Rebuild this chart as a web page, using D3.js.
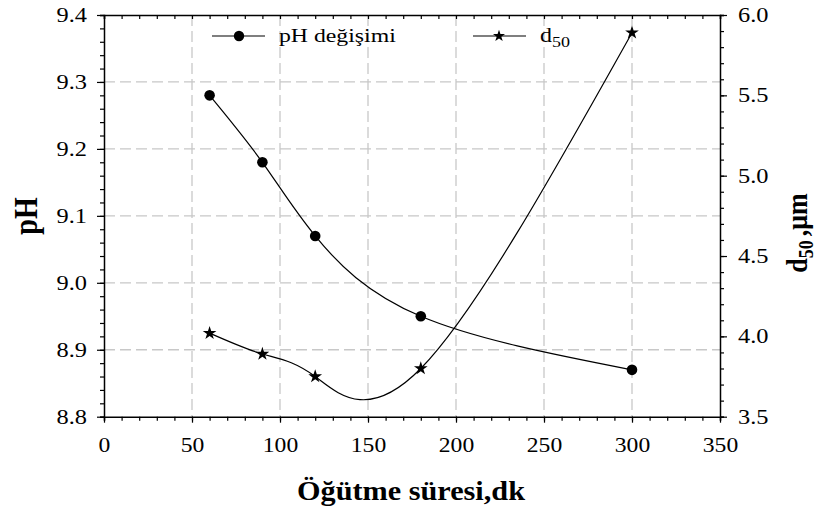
<!DOCTYPE html>
<html>
<head>
<meta charset="utf-8">
<script src="https://cdn.jsdelivr.net/npm/d3@7"></script>
<style>
  body { margin: 0; background: #fff; }
  svg text { font-family: "Liberation Serif", "Times New Roman", serif !important; fill: #000; }
</style>
</head>
<body>
<div id="wrapper"></div>
<script>
// grinding time (dk)
const times = [60, 90, 120, 180, 300];
// pH change
const phValues = [9.28, 9.18, 9.07, 8.95, 8.87];
// d50 (um), right axis
const d50Values = [4.02, 3.89, 3.75, 3.80, 5.89];

const xTicks = [0, 50, 100, 150, 200, 250, 300, 350];
const phTicks = [8.8, 8.9, 9.0, 9.1, 9.2, 9.3, 9.4];
const d50Ticks = [3.5, 4.0, 4.5, 5.0, 5.5, 6.0];

// the reference text is a bit wider than plain Times
function stretch(sel, sx) {
    sel.each(function() {
        const t = d3.select(this);
        const x = +t.attr("x") || 0;
        const y = +t.attr("y") || 0;
        t.attr("x", 0).attr("y", 0)
            .attr("transform", `translate(${x},${y}) scale(${sx},1)`);
    });
}

function buildPlot() {
    const dimension = {
        width: 820,
        height: 507,
        margin: { top: 15, left: 104, bottom: 90, right: 100 }
    };
    dimension.boundedWidth = dimension.width - dimension.margin.left - dimension.margin.right;
    dimension.boundedHeight = 401.7;

    const svg = d3.select("#wrapper").append("svg")
        .attr("width", dimension.width)
        .attr("height", dimension.height);

    const bounds = svg.append("g")
        .attr("transform", `translate(${dimension.margin.left},${dimension.margin.top})`);

    const xScaler = d3.scaleLinear().domain([0, 350]).range([0, dimension.boundedWidth]);
    const yScaler = d3.scaleLinear().domain([8.8, 9.4]).range([dimension.boundedHeight, 0]);
    const y2Scaler = d3.scaleLinear().domain([3.5, 6.0]).range([dimension.boundedHeight, 0]);

    // grid
    const grid = bounds.append("g")
        .attr("stroke", "#c8c8c8")
        .attr("stroke-width", 1.3)
        .attr("stroke-dasharray", "11,5");
    grid.selectAll(".vg").data(xTicks.slice(1, -1)).join("line")
        .attr("x1", d => xScaler(d)).attr("x2", d => xScaler(d))
        .attr("y1", 0).attr("y2", dimension.boundedHeight);
    grid.selectAll(".hg").data(phTicks.slice(1, -1)).join("line")
        .attr("class", "hg")
        .attr("x1", 0).attr("x2", dimension.boundedWidth)
        .attr("y1", d => yScaler(d)).attr("y2", d => yScaler(d));

    // axes
    const minorX = d3.range(0, 351, 10);
    const minorPh = d3.range(0, 31).map(i => 8.8 + i * 0.02);
    const minorD = d3.range(0, 26).map(i => 3.5 + i * 0.1);

    bounds.append("g")
        .attr("transform", `translate(0,${dimension.boundedHeight})`)
        .call(d3.axisBottom(xScaler).tickValues(minorX).tickSize(4).tickFormat(""));
    const xAxis = bounds.append("g")
        .attr("transform", `translate(0,${dimension.boundedHeight})`)
        .call(d3.axisBottom(xScaler).tickValues(xTicks).tickSize(6).tickPadding(15).tickFormat(d3.format("d")))
        .call(g => g.select(".domain").remove());

    bounds.append("g")
        .call(d3.axisTop(xScaler).tickValues(minorX).tickSize(-4).tickFormat(""));

    bounds.append("g")
        .call(d3.axisLeft(yScaler).tickValues(minorPh).tickSize(4).tickFormat(""));
    const yAxis = bounds.append("g")
        .call(d3.axisLeft(yScaler).tickValues(phTicks).tickSize(7).tickPadding(10).tickFormat(d3.format(".1f")))
        .call(g => g.select(".domain").remove());

    bounds.append("g")
        .attr("transform", `translate(${dimension.boundedWidth},0)`)
        .call(d3.axisRight(y2Scaler).tickValues(minorD).tickSize(4).tickFormat(""));
    const y2Axis = bounds.append("g")
        .attr("transform", `translate(${dimension.boundedWidth},0)`)
        .call(d3.axisRight(y2Scaler).tickValues(d50Ticks).tickSize(7).tickPadding(11).tickFormat(d3.format(".1f")))
        .call(g => g.select(".domain").remove());

    bounds.selectAll(".domain").attr("stroke-width", 1.5);
    bounds.selectAll(".tick line").attr("stroke-width", 1.2);
    bounds.selectAll(".tick text")
        .attr("font-size", 20)
        .attr("fill", "#000");
    stretch(xAxis.selectAll(".tick text"), 1.18);
    stretch(yAxis.selectAll(".tick text"), 1.22);
    stretch(y2Axis.selectAll(".tick text"), 1.22);

    // lines
    const phLine = d3.line()
        .x((d, i) => xScaler(times[i]))
        .y(d => yScaler(d))
        .curve(d3.curveNatural);
    const dLine = d3.line()
        .x((d, i) => xScaler(times[i]))
        .y(d => y2Scaler(d))
        .curve(d3.curveNatural);

    bounds.append("path").datum(phValues)
        .attr("d", phLine).attr("fill", "none").attr("stroke", "#000").attr("stroke-width", 1.2);
    bounds.append("path").datum(d50Values)
        .attr("d", dLine).attr("fill", "none").attr("stroke", "#000").attr("stroke-width", 1.2);

    bounds.selectAll(".ph-dot").data(phValues).join("circle")
        .attr("cx", (d, i) => xScaler(times[i]))
        .attr("cy", d => yScaler(d))
        .attr("r", 5.3)
        .attr("fill", "#000");

    const star = d3.symbol().type(d3.symbolStar).size(58);
    bounds.selectAll(".d-star").data(d50Values).join("path")
        .attr("transform", (d, i) => `translate(${xScaler(times[i])},${y2Scaler(d)})`)
        .attr("d", star)
        .attr("fill", "#000");

    // legend
    const legend = svg.append("g");
    legend.append("line").attr("x1", 212).attr("x2", 265).attr("y1", 36).attr("y2", 36)
        .attr("stroke", "#000").attr("stroke-width", 1.2);
    legend.append("circle").attr("cx", 239).attr("cy", 36).attr("r", 5.2).attr("fill", "#000");
    legend.append("text").attr("x", 279).attr("y", 42).attr("font-size", 19).text("pH değişimi")
        .call(stretch, 1.25);

    legend.append("line").attr("x1", 473).attr("x2", 526).attr("y1", 36).attr("y2", 36)
        .attr("stroke", "#000").attr("stroke-width", 1.2);
    legend.append("path").attr("transform", "translate(499,36)")
        .attr("d", d3.symbol().type(d3.symbolStar).size(45)).attr("fill", "#000");
    const dText = legend.append("text").attr("x", 540).attr("y", 42).attr("font-size", 20);
    dText.append("tspan").text("d");
    dText.append("tspan").attr("dy", 5).attr("font-size", 15).text("50");
    stretch(dText, 1.2);

    // axis titles
    svg.append("text")
        .attr("x", 411).attr("y", 500)
        .attr("text-anchor", "middle")
        .attr("font-size", 27.5).attr("font-weight", "bold")
        .text("Öğütme süresi,dk")
        .call(stretch, 1.1);

    svg.append("text")
        .attr("transform", "translate(37,216) rotate(-90) scale(1,1.2)")
        .attr("text-anchor", "middle")
        .attr("font-size", 28).attr("font-weight", "bold")
        .text("pH");

    const rt = svg.append("text")
        .attr("transform", "translate(807,233) rotate(-90) scale(1,1.12)")
        .attr("text-anchor", "middle")
        .attr("font-size", 26).attr("font-weight", "bold");
    rt.append("tspan").text("d");
    rt.append("tspan").attr("dy", 5).attr("font-size", 18).text("50");
    rt.append("tspan").attr("dy", -5).attr("dx", 4).text(",μm");
}

buildPlot();
</script>
</body>
</html>
